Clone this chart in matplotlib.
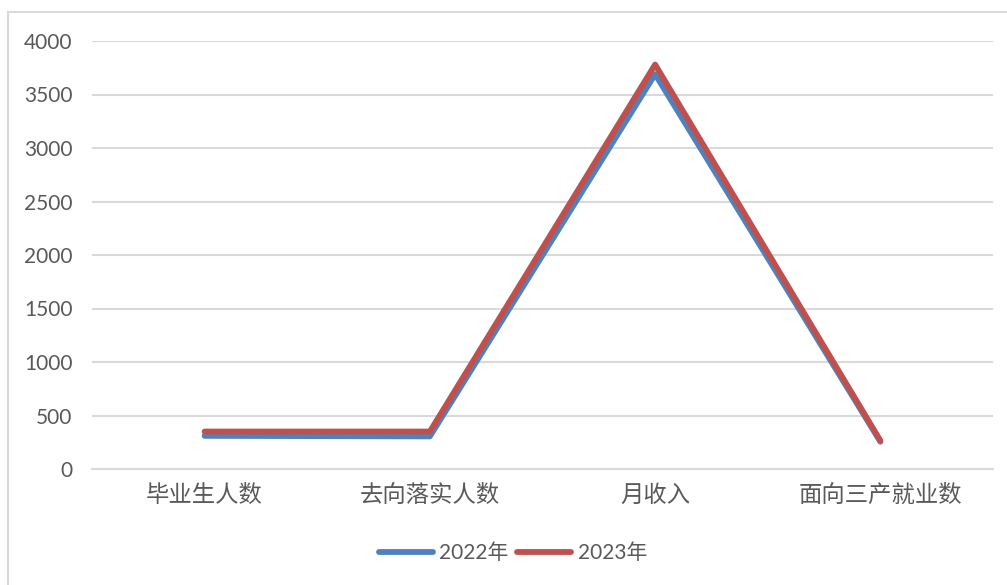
import matplotlib
matplotlib.use("Agg")
import matplotlib.pyplot as plt
from matplotlib.patches import Rectangle

categories = ["毕业生人数", "去向落实人数", "月收入", "面向三产就业数"]
series_2022 = [310, 305, 3690, 255]
series_2023 = [350, 350, 3780, 265]
series_names = ["2022年", "2023年"]
yticks = [0, 500, 1000, 1500, 2000, 2500, 3000, 3500, 4000]

W, H = 1007, 585
fig = plt.figure(figsize=(W / 100, H / 100), dpi=100)
fig.patch.set_facecolor("white")

# outer chart frame
fig.patches.append(Rectangle((8 / W, -0.05), 1.1, 1 - 12 / H + 0.05,
                             transform=fig.transFigure, fill=False,
                             edgecolor="#D9D9D9", linewidth=1.5))

ax = fig.add_axes([92 / W, 1 - 469 / H, (993 - 92) / W, (469 - 41) / H])
x = list(range(len(categories)))
l1, = ax.plot(x, series_2022, color="#4F81BD", linewidth=4.2,
              solid_capstyle="round", solid_joinstyle="round", label=series_names[0])
l2, = ax.plot(x, series_2023, color="#C0504D", linewidth=4.2,
              solid_capstyle="round", solid_joinstyle="round", label=series_names[1])

ax.set_xlim(-0.5, len(categories) - 0.5)
ax.set_ylim(0, 4000)
ax.set_yticks(yticks)
ax.set_yticklabels([str(v) for v in yticks], fontfamily=["Lato", "DejaVu Sans"],
                   fontsize=15, color="#595959")
ax.set_xticks(x)
ax.set_xticklabels(categories, fontfamily=["Noto Sans CJK SC", "DejaVu Sans"],
                   fontsize=16.8, color="#595959")
ax.tick_params(axis="y", length=0, pad=14)
ax.tick_params(axis="x", length=0, pad=11)
ax.grid(axis="y", color="#D9D9D9", linewidth=1.5)
ax.set_axisbelow(True)
for s in ["top", "right", "left"]:
    ax.spines[s].set_visible(False)
ax.spines["bottom"].set_color("#D9D9D9")
ax.spines["bottom"].set_linewidth(1.5)

leg = fig.legend(handles=[l1, l2], labels=series_names, loc="center",
                 bbox_to_anchor=(513 / W, 1 - 553 / H), ncol=2, frameon=False,
                 handlelength=2.6, handletextpad=0.3, columnspacing=0.4,
                 prop={"family": ["Lato", "Noto Sans CJK SC"], "size": 15})
for t in leg.get_texts():
    t.set_color("#595959")

fig.savefig("out.png", dpi=100)
